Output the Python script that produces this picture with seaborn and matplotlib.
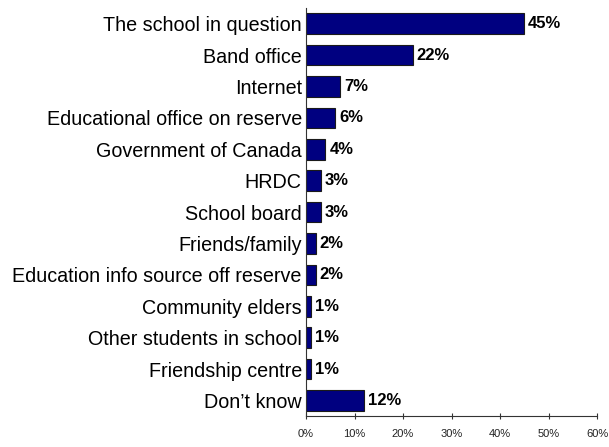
import matplotlib
matplotlib.use("Agg")
import matplotlib.pyplot as plt
import matplotlib.ticker as mticker
import seaborn as sns
import pandas as pd

sources = [
    "The school in question",
    "Band office",
    "Internet",
    "Educational office on reserve",
    "Government of Canada",
    "HRDC",
    "School board",
    "Friends/family",
    "Education info source off reserve",
    "Community elders",
    "Other students in school",
    "Friendship centre",
    "Don\u2019t know",
]
shares = [45, 22, 7, 6, 4, 3, 3, 2, 2, 1, 1, 1, 12]
x_ticks = [0, 10, 20, 30, 40, 50, 60]

df = pd.DataFrame({"source": sources, "share": shares})

sns.set_theme(style="white")
plt.rcParams["font.family"] = ["Liberation Sans", "DejaVu Sans"]

fig = plt.figure(figsize=(6.09, 4.47), dpi=100)
ax = fig.add_axes([0.5025, 0.069, 0.478, 0.913])

sns.barplot(data=df, x="share", y="source", orient="h", color="#000080",
            width=0.66, edgecolor="#1a1a1a", linewidth=0.8, saturation=1,
            ax=ax)

for patch, v in zip(ax.patches, shares):
    y = patch.get_y() + patch.get_height() / 2
    ax.text(v + 0.8, y, f"{v}%", va="center", ha="left",
            fontsize=12, fontweight="bold", color="black")

ax.set_xlim(0, 60)
ax.set_ylim(len(sources) - 0.5, -0.5)
ax.set_xticks(x_ticks)
ax.xaxis.set_major_formatter(mticker.FuncFormatter(lambda v, p: f"{int(v)}%"))
ax.set_xlabel("")
ax.set_ylabel("")

for side in ["top", "right"]:
    ax.spines[side].set_visible(False)
for side in ["left", "bottom"]:
    ax.spines[side].set_visible(True)
    ax.spines[side].set_color("#333333")
    ax.spines[side].set_linewidth(0.8)

ax.tick_params(axis="y", length=0, labelsize=14.2, pad=3, labelcolor="black")
ax.tick_params(axis="x", length=4, width=0.8, direction="inout", color="#333333",
               labelsize=8, pad=7, labelcolor="#222222", bottom=True)

fig.savefig("out.png", dpi=100)
